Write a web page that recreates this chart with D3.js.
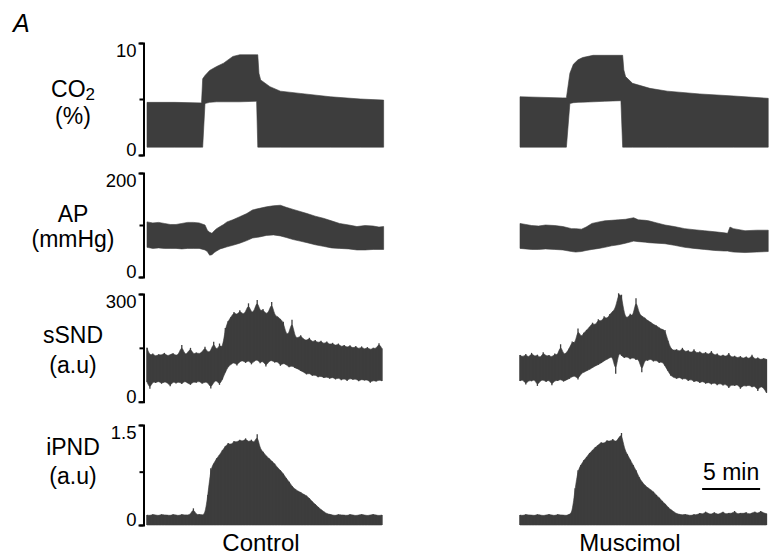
<!DOCTYPE html>
<html>
<head>
<meta charset="utf-8">
<script src="https://cdn.jsdelivr.net/npm/d3@7"></script>
<style>
  body { margin: 0; background: #fff; }
  svg { font-family: "Liberation Sans", Arial, sans-serif; }
</style>
</head>
<body>
<svg id="chart" width="773" height="557"></svg>
<script>
// ---- data (time in min) ----
var conditions = ['Control', 'Muscimol'];

var co2Ticks = [0, 5, 10],   co2TickLabels = ['0', '', '10'];
var apTicks  = [0, 100, 200], apTickLabels = ['0', '', '200'];
var sndTicks = [0, 150, 300], sndTickLabels = ['0', '', '300'];
var pndTicks = [0, 0.8, 1.5], pndTickLabels = ['0', '', '1.5'];

// CO2 (%), upper / lower envelope of the breath-by-breath signal
var co2CtlT  = [0, 2.4, 4.7, 4.8, 5.0, 5.4, 6.0, 6.6, 7.4, 8.0, 9.45, 9.55, 9.65, 9.8, 10.6, 11.5, 13.2, 15.8, 18.4, 20.4];
var co2CtlHi = [4.7, 4.7, 4.65, 6.8, 7.1, 7.55, 7.9, 8.2, 8.8, 8.95, 8.95, 8.95, 7.3, 6.7, 6.1, 5.7, 5.5, 5.2, 5.0, 4.9];
var co2CtlLo = [0.7, 0.7, 0.7, 0.7, 4.6, 4.7, 4.75, 4.75, 4.75, 4.75, 4.8, 0.7, 0.7, 0.7, 0.7, 0.7, 0.7, 0.7, 0.7, 0.7];
var co2MusT  = [0, 3.7, 4.0, 4.3, 4.6, 5.0, 5.4, 6.3, 7.3, 8.7, 8.85, 8.95, 9.1, 9.7, 11.2, 12.7, 15.5, 18.4, 21.4];
var co2MusHi = [5.2, 5.1, 5.1, 7.3, 8.1, 8.5, 8.7, 8.9, 8.9, 8.9, 8.9, 7.6, 7.0, 6.4, 5.95, 5.7, 5.45, 5.27, 5.06];
var co2MusLo = [0.7, 0.7, 0.7, 4.6, 4.67, 4.7, 4.72, 4.75, 4.8, 4.85, 0.7, 0.7, 0.7, 0.7, 0.7, 0.7, 0.7, 0.7, 0.7];

// AP (mmHg)
var apCtlT  = [0, 0.5, 1, 1.5, 2, 2.5, 3, 3.5, 4, 4.5, 5, 5.2, 5.4, 5.6, 5.8, 6, 6.3, 6.6, 6.9, 7.4,
               8, 8.6, 9.1, 9.7, 10.3, 10.9, 11.5, 12, 12.6, 13.2, 13.8, 14.5, 15.2, 15.9, 16.6, 17.4, 18.1, 18.8, 19.5, 20, 20.4];
var apCtlHi = [106, 104, 105, 103, 101, 101, 103, 105, 105, 104, 100, 90, 86, 84, 89, 93, 97, 101, 106, 110,
               116, 122, 129, 132, 135, 137, 138, 134, 130, 126, 122, 117, 113, 108, 103, 100, 97, 99, 98, 96, 97];
var apCtlLo = [57, 55, 56, 55, 55, 55, 54, 55, 55, 55, 52, 49, 42, 43, 47, 50, 54, 56, 58, 61,
               65, 70, 75, 77, 80, 81, 79, 76, 72, 69, 66, 62, 59, 56, 55, 54, 52, 52, 53, 53, 53];
var apMusT  = [0, 0.5, 1, 1.6, 2.2, 3.0, 3.7, 4.45, 4.8, 5.3, 5.7, 6.2, 6.8, 7.3, 7.9, 8.5, 9.1, 9.8,
               10.2, 10.8, 11.1, 11.8, 12.5, 13.3, 14.2, 15.0, 15.9, 16.8, 17.6, 17.9, 18.1, 18.4, 19.4, 20.4, 21.4];
var apMusHi = [103, 101, 99, 98, 100, 99, 97, 93, 93, 92, 96, 103, 106, 108, 109, 110, 111, 114,
               110, 109, 108, 104, 100, 97, 93, 91, 89, 87, 85, 84, 96, 93, 89, 90, 90];
var apMusLo = [55, 54, 53, 53, 54, 53, 52, 49, 48, 49, 51, 53, 55, 57, 60, 62, 65, 69,
               68, 67, 66, 65, 64, 61, 57, 55, 53, 51, 50, 50, 49, 48, 47, 48, 49];

// sSND and iPND (a.u), sampled every 0.25 min
var sampleStep = 0.25;
var sndCtlHi = [150, 128, 134, 126, 132, 129, 136, 127, 131, 135, 128, 133, 158, 130, 136, 150, 131, 137, 133, 138,
                153, 136, 141, 167, 140, 162, 145, 205, 225, 236, 250, 240, 255, 243, 249, 274, 246, 253, 283, 250,
                258, 244, 249, 278, 240, 237, 230, 223, 186, 190, 228, 180, 177, 185, 174, 170, 178, 165, 172, 163,
                170, 160, 168, 158, 164, 155, 162, 152, 158, 150, 157, 148, 155, 146, 154, 145, 152, 144, 150, 147,
                163, 148];
var sndCtlLo = [55, 36, 57, 52, 58, 50, 56, 53, 43, 57, 51, 56, 49, 58, 52, 47, 56, 53, 58, 50,
                55, 54, 37, 55, 60, 47, 62, 82, 98, 104, 110, 101, 112, 115, 108, 116, 104, 113, 118, 107,
                115, 98, 112, 116, 109, 113, 100, 108, 103, 96, 101, 94, 92, 86, 83, 76, 80, 72, 75, 68,
                72, 66, 70, 64, 69, 62, 67, 60, 65, 58, 66, 61, 64, 57, 63, 59, 62, 53, 60, 56,
                61, 58];
var sndMusHi = [130, 124, 133, 122, 136, 125, 131, 121, 138, 126, 130, 123, 134, 128, 160, 130, 136, 148, 168, 160,
                204, 178, 192, 200, 208, 220, 212, 230, 222, 238, 230, 244, 251, 262, 302, 298, 240, 232, 245, 236,
                288, 246, 238, 234, 226, 222, 215, 212, 206, 201, 200, 170, 148, 142, 146, 139, 150, 138, 143, 135,
                146, 134, 140, 132, 138, 130, 141, 128, 134, 125, 131, 124, 136, 122, 128, 121, 127, 119, 126, 118,
                131, 117, 123, 116, 121, 118];
var sndMusLo = [58, 62, 48, 60, 57, 63, 44, 59, 61, 55, 62, 46, 60, 58, 63, 56, 61, 64, 70, 72,
                62, 78, 82, 86, 90, 95, 100, 103, 108, 114, 118, 123, 126, 78, 140, 128, 122, 126, 118, 124,
                116, 120, 82, 118, 114, 120, 112, 116, 108, 112, 100, 86, 72, 68, 64, 69, 62, 66, 58, 63,
                55, 60, 52, 58, 50, 55, 48, 54, 46, 52, 45, 50, 38, 48, 44, 49, 36, 46, 43, 47,
                40, 45, 30, 44, 38, 25];
var pndCtlHi = [0.15, 0.14, 0.16, 0.15, 0.14, 0.16, 0.15, 0.15, 0.14, 0.16, 0.15, 0.14, 0.16, 0.15, 0.15, 0.16, 0.25, 0.15, 0.16, 0.15,
                0.16, 0.45, 0.85, 0.92, 1.0, 1.05, 1.12, 1.18, 1.23, 1.2, 1.26, 1.24, 1.28, 1.25, 1.3, 1.24, 1.28, 1.22, 1.36, 1.14,
                1.1, 1.04, 1.0, 0.96, 0.92, 0.86, 0.82, 0.77, 0.7, 0.65, 0.58, 0.54, 0.51, 0.49, 0.46, 0.44, 0.4, 0.35, 0.31, 0.27,
                0.23, 0.2, 0.17, 0.16, 0.15, 0.14, 0.16, 0.15, 0.15, 0.14, 0.16, 0.15, 0.14, 0.15, 0.16, 0.15, 0.14, 0.15, 0.16, 0.15,
                0.14, 0.15];
var pndMusHi = [0.15, 0.14, 0.16, 0.15, 0.15, 0.14, 0.16, 0.15, 0.14, 0.15, 0.16, 0.15, 0.14, 0.16, 0.15, 0.15, 0.14, 0.16, 0.18, 0.55,
                0.82, 0.9, 0.97, 1.02, 1.08, 1.12, 1.17, 1.2, 1.24, 1.22, 1.27, 1.25, 1.29, 1.24, 1.3, 1.38, 1.14, 1.06, 0.98, 0.9,
                0.82, 0.72, 0.65, 0.6, 0.56, 0.53, 0.5, 0.45, 0.41, 0.36, 0.32, 0.27, 0.23, 0.2, 0.17, 0.16, 0.15, 0.16, 0.15, 0.14,
                0.16, 0.15, 0.18, 0.16, 0.2, 0.17, 0.16, 0.19, 0.16, 0.17, 0.2, 0.16, 0.18, 0.17, 0.21, 0.16, 0.18, 0.17, 0.19, 0.16,
                0.18, 0.2, 0.17, 0.21, 0.18, 0.17];

var scaleBarMin = 5;

// ---- layout ----
var svg = d3.select('#chart');
var ink = '#3d3d3d';
var pxPerMin = 11.6;
var axisX = 143.5;

var cols = [
  { x0: 147, len: 20.4, labelX: 261 },
  { x0: 520, len: 21.4, labelX: 630 }
];
cols.forEach(function(c) {
  c.x = d3.scaleLinear().domain([0, c.len]).range([c.x0, c.x0 + c.len * pxPerMin]);
});

function uniform(vals) {
  return vals.map(function(v, i) { return i * sampleStep; });
}
function zeros(vals) {
  return vals.map(function() { return 0; });
}

var rows = [
  { name: 'CO', sub: '2', unit: '(%)', nameY: 97, unitY: 124, top: 43, bottom: 155,
    ticks: co2Ticks, labels: co2TickLabels,
    traces: [[co2CtlT, co2CtlHi, co2CtlLo], [co2MusT, co2MusHi, co2MusLo]] },
  { name: 'AP', unit: '(mmHg)', nameY: 222, unitY: 247, top: 173, bottom: 277,
    ticks: apTicks, labels: apTickLabels,
    traces: [[apCtlT, apCtlHi, apCtlLo], [apMusT, apMusHi, apMusLo]] },
  { name: 'sSND', unit: '(a.u)', nameY: 343, unitY: 373, top: 294, bottom: 401.7,
    ticks: sndTicks, labels: sndTickLabels, noisy: true,
    traces: [[uniform(sndCtlHi), sndCtlHi, sndCtlLo], [uniform(sndMusHi), sndMusHi, sndMusLo]] },
  { name: 'iPND', unit: '(a.u)', nameY: 455, unitY: 484, top: 425, bottom: 525,
    ticks: pndTicks, labels: pndTickLabels, noisy: true,
    traces: [[uniform(pndCtlHi), pndCtlHi, zeros(pndCtlHi)], [uniform(pndMusHi), pndMusHi, zeros(pndMusHi)]] }
];

rows.forEach(function(r) {
  var y = d3.scaleLinear().domain([r.ticks[0], r.ticks[2]]).range([r.bottom, r.top]);

  // traces
  r.traces.forEach(function(tr, ci) {
    var x = cols[ci].x;
    var pts = tr[0].map(function(t, i) { return [t, tr[1][i], tr[2][i]]; });
    var area = d3.area()
      .x(function(d) { return x(d[0]); })
      .y0(function(d) { return y(d[2]); })
      .y1(function(d) { return y(d[1]); });
    if (r.noisy) area.curve(d3.curveBasis);
    svg.append('path')
      .attr('d', area(pts))
      .attr('fill', ink)
      .attr('stroke', ink)
      .attr('stroke-width', 0.6)
      .attr('stroke-linejoin', 'round');

    // each sample's full excursion as a thin vertical stroke
    if (r.noisy) {
      svg.append('g').selectAll('line')
        .data(pts)
        .join('line')
        .attr('x1', function(d) { return x(d[0]); })
        .attr('x2', function(d) { return x(d[0]); })
        .attr('y1', function(d) { return y(d[2]); })
        .attr('y2', function(d) { return y(d[1]); })
        .attr('stroke', ink)
        .attr('stroke-width', 1.3);
    }
  });

  // axis bracket
  var ax = svg.append('g')
    .attr('transform', 'translate(' + axisX + ',0)')
    .call(d3.axisLeft(y).tickValues(r.ticks).tickSizeInner(4).tickSizeOuter(5)
      .tickFormat(function(d, i) { return r.labels[i]; }));
  ax.select('.domain').attr('stroke', '#000').attr('stroke-width', 2);
  ax.selectAll('.tick line').attr('stroke', '#000').attr('stroke-width', 2);
  ax.selectAll('.tick text')
    .attr('font-size', 18.5)
    .attr('font-family', '"Liberation Sans", Arial, sans-serif')
    .attr('fill', '#000')
    .attr('dy', function(d, i) { return i === 2 ? '0.71em' : '0.05em'; });

  // row label
  var lab = svg.append('text')
    .attr('x', 73).attr('y', r.nameY)
    .attr('text-anchor', 'middle')
    .attr('font-size', 23)
    .text(r.name);
  if (r.sub) {
    lab.append('tspan').attr('font-size', 17).attr('dy', 3).text(r.sub);
  }
  svg.append('text')
    .attr('x', 73).attr('y', r.unitY)
    .attr('text-anchor', 'middle')
    .attr('font-size', 23)
    .text(r.unit);
});

// condition labels
cols.forEach(function(c, i) {
  svg.append('text')
    .attr('x', c.labelX).attr('y', 551)
    .attr('text-anchor', 'middle')
    .attr('font-size', 24)
    .text(conditions[i]);
});

// scale bar
var xm = cols[1].x;
svg.append('line')
  .attr('x1', xm(15.7)).attr('x2', xm(15.7 + scaleBarMin))
  .attr('y1', 489).attr('y2', 489)
  .attr('stroke', '#000').attr('stroke-width', 2);
svg.append('text')
  .attr('x', (xm(15.7) + xm(15.7 + scaleBarMin)) / 2).attr('y', 480)
  .attr('text-anchor', 'middle')
  .attr('font-size', 23)
  .text(scaleBarMin + ' min');

// panel letter
svg.append('text')
  .attr('x', 13).attr('y', 32)
  .attr('font-size', 25)
  .attr('font-style', 'italic')
  .text('A');
</script>
</body>
</html>
